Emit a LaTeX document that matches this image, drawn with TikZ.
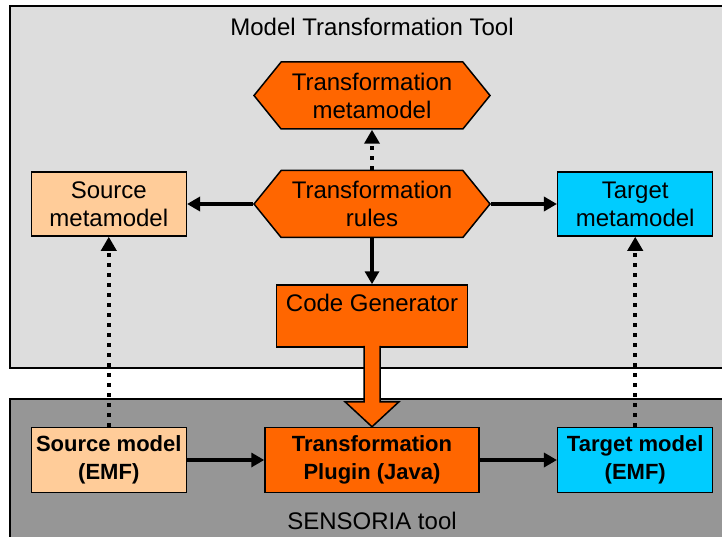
\documentclass[tikz,border=0pt]{standalone}
\usepackage{fontspec}
\setmainfont{Liberation Sans}
\usetikzlibrary{shapes.symbols, arrows.meta, positioning, calc}
\definecolor{mttorange}{RGB}{255,102,0}
\definecolor{mttpeach}{RGB}{255,204,153}
\definecolor{mttcyan}{RGB}{0,204,255}
\definecolor{toolgray}{RGB}{221,221,221}
\definecolor{sensgray}{RGB}{150,150,150}
\tikzset{
  panel/.style={draw=black, line width=1.5pt},
  hexbox/.style={
    signal, signal to=east and west, signal pointer angle=102,
    draw=black, line width=1.5pt, fill=mttorange,
    minimum width=236pt, minimum height=67pt, inner sep=0pt,
    align=center, font=\fontsize{24}{28}\selectfont
  },
  modelbox/.style={
    rectangle, draw=black, line width=1.5pt,
    minimum width=155pt, minimum height=64pt, inner sep=0pt,
    align=center, font=\fontsize{24}{28}\selectfont
  },
  srcbox/.style={modelbox, fill=mttpeach},
  tgtbox/.style={modelbox, fill=mttcyan},
  genbox/.style={
    rectangle, draw=black, line width=1.5pt, fill=mttorange,
    minimum width=191pt, inner xsep=0pt, inner ysep=6pt,
    text height=20pt, text depth=30pt,
    font=\fontsize{24}{28}\selectfont
  },
  emfbox/.style={modelbox, minimum height=65pt, font=\fontsize{22}{28}\selectfont\bfseries},
  arrow/.style={line width=4.5pt, -{Triangle[length=13pt,width=14pt]}},
  dotarrow/.style={line width=4pt, dash pattern=on 4pt off 6pt,
    -{Triangle[length=14pt,width=15pt]}},
  bigarrow/.style={draw=black, line width=1.5pt, fill=mttorange, line join=miter},
}

\begin{document}
\begin{tikzpicture}[x=1pt, y=-1pt, font=\fontsize{24}{28}\selectfont]
  \useasboundingbox (0,0) rectangle (722,537);
  \clip (0,0) rectangle (722,537);

  % the two tool areas
  \filldraw[panel, fill=toolgray] (10,6) rectangle (740,368);
  \filldraw[panel, fill=sensgray] (10,399) rectangle (740,560);
  \node (tooltitle) at (372,27) {Model Transformation Tool};
  \node (senstitle) at (372,521) {SENSORIA tool};

  % model transformation tool
  \node (rules)   [hexbox] at (372,204)            {Transformation\\rules};
  \node (meta)    [hexbox, above=40pt of rules]    {Transformation\\metamodel};
  \node (srcmeta) [srcbox, left=66pt of rules]     {Source\\metamodel};
  \node (tgtmeta) [tgtbox, right=66pt of rules]    {Target\\metamodel};
  \node (gen)     [genbox, below=46pt of rules]    {Code Generator};

  % sensoria tool
  \node (srcmodel) [emfbox, fill=mttpeach, below=190pt of srcmeta] {Source model\\(EMF)};
  \node (tgtmodel) [emfbox, fill=mttcyan, below=190pt of tgtmeta]  {Target model\\(EMF)};
  \node (plugin)   [emfbox, fill=mttorange, minimum width=214pt] at (gen |- srcmodel)
                   {Transformation\\Plugin (Java)};

  \draw [arrow]    (rules.west)     -- (srcmeta.east);
  \draw [arrow]    (rules.east)     -- (tgtmeta.west);
  \draw [arrow]    (rules.south)    -- (gen.north);
  \draw [dotarrow] (rules.north)    -- (meta.south);
  \draw [dotarrow] (srcmodel.north) -- (srcmeta.south);
  \draw [dotarrow] (tgtmodel.north) -- (tgtmeta.south);
  \draw [arrow]    (srcmodel.east)  -- (plugin.west);
  \draw [arrow]    (plugin.east)    -- (tgtmodel.west);

  % block arrow from the generator into the plugin
  \path [bigarrow]
    ($(gen.south)+(-8,-2)$) -- ($(plugin.north)+(-8,-25)$)
    -- ($(plugin.north)+(-27,-25)$) -- (plugin.north)
    -- ($(plugin.north)+(27,-25)$) -- ($(plugin.north)+(8,-25)$)
    -- ($(gen.south)+(8,-2)$);
\end{tikzpicture}
\end{document}
